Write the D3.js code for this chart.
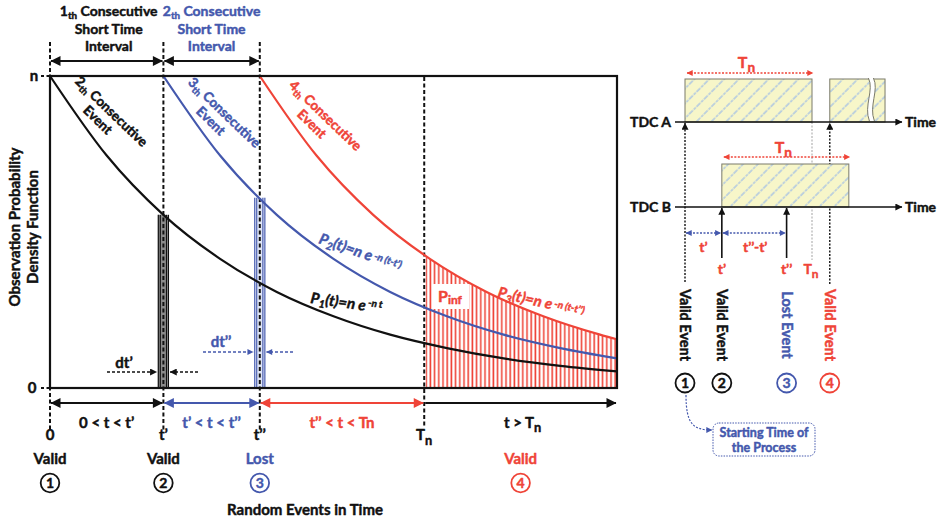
<!DOCTYPE html>
<html><head><meta charset="utf-8">
<script src="https://cdn.jsdelivr.net/npm/d3@7"></script>
<style>
html,body{margin:0;padding:0;background:#fff;}
svg{display:block;font-family:Lato,"Open Sans",sans-serif;font-weight:700;}
</style></head><body>
<svg id="c" width="938" height="524"></svg>
<script>
// ---------------- DATA ----------------
const tEnd = 10;
const eventTimes = [0, 2.0, 3.7, 6.6];            // 0, t', t'', Tn
const eventTickLabels = [["0",""], ["t\u2019",""], ["t\u2019\u2019",""], ["T","n"]];
const eventStatus = ["Valid", "Valid", "Lost", "Valid"];
const eventNumbers = ["1", "2", "3", "4"];
const statusTimes = [0, 2.0, 3.7, 8.3];
const yTickValues = [0, 1];
const yTickLabels = ["0", "n"];
const p1T = [0, 1, 2, 3, 4, 5, 6, 7, 8, 9, 10];
const p1V = [1.00, 0.745, 0.555, 0.414, 0.308, 0.230, 0.171, 0.128, 0.095, 0.071, 0.053];
const p2T = [2, 3, 4, 5, 6, 7, 8, 9, 10];
const p2V = [1.00, 0.745, 0.555, 0.414, 0.308, 0.230, 0.171, 0.128, 0.095];
const p3T = [3.7, 4.7, 5.7, 6.7, 7.7, 8.7, 9.7, 10];
const p3V = [1.00, 0.745, 0.555, 0.414, 0.308, 0.230, 0.171, 0.156];
const barTimes = [2.0, 3.7];          // dt', dt''
const barTops = [0.555, 0.61];
const barHalfWidth = 0.1;
// right panel (time in units of Tn)
const tdcEventTimes = [0, 0.29, 0.80, 1.14];
const tdcEventLabels = ["Valid Event", "Valid Event", "Lost Event", "Valid Event"];
const tdcRows = ["TDC A", "TDC B"];
const tdcBoxesA = [[0, 1], [1.14, 1.575]];
const tdcBoxesB = [[0.29, 1.29]];
const tdcBreak = 1.46;

// ---------------- SETUP ----------------
const BLACK = "#111", BLUE = "#4458ad", RED = "#ef4438";
const svg = d3.select("#c");
const defs = svg.append("defs");
function mk(id, color, w, h) {
  defs.append("marker").attr("id", id).attr("viewBox", "0 0 10 10")
    .attr("refX", 9.5).attr("refY", 5).attr("markerUnits", "userSpaceOnUse")
    .attr("markerWidth", w).attr("markerHeight", h).attr("orient", "auto-start-reverse")
    .append("path").attr("d", "M0,0L10,5L0,10z").attr("fill", color);
}
mk("aK", BLACK, 13, 10); mk("aB", BLUE, 13, 10); mk("aR", RED, 13, 10);
mk("sK", BLACK, 8, 7); mk("sB", BLUE, 7, 6); mk("sR", RED, 7, 6);

const vp = defs.append("pattern").attr("id", "vh").attr("patternUnits", "userSpaceOnUse")
  .attr("width", 4.2).attr("height", 10);
vp.append("rect").attr("width", 4.2).attr("height", 10).attr("fill", "#fff");
vp.append("line").attr("x1", 2).attr("x2", 2).attr("y1", 0).attr("y2", 10)
  .attr("stroke", RED).attr("stroke-width", 1.6);
const dp = defs.append("pattern").attr("id", "dh").attr("patternUnits", "userSpaceOnUse")
  .attr("width", 10.5).attr("height", 10.5).attr("patternTransform", "rotate(45)");
dp.append("rect").attr("width", 10.5).attr("height", 10.5).attr("fill", "#f7f6c9");
dp.append("line").attr("x1", 1).attr("x2", 1).attr("y1", 0).attr("y2", 10.5)
  .attr("stroke", "#a3c0e6").attr("stroke-width", 1.3).attr("stroke-dasharray", "3,1");

function rich(sel, parts) {
  let cur = 0;
  parts.forEach(p => {
    const off = p.sub ? (p.off || 4) : p.sup ? -(p.off || 6) : 0;
    const ts = sel.append("tspan").text(p.t).attr("dy", off - cur);
    if (p.sub || p.sup) ts.attr("font-size", p.fs || "0.7em");
    cur = off;
  });
  return sel;
}

// ---------------- MAIN CHART ----------------
const x = d3.scaleLinear().domain([0, tEnd]).range([50, 617]);
const y = d3.scaleLinear().domain([0, 1]).range([388, 76]);
const zip = (a, b) => a.map((v, i) => [v, b[i]]);
const line = d3.line().x(d => x(d[0])).y(d => y(d[1])).curve(d3.curveMonotoneX);
const area = d3.area().x(d => x(d[0])).y0(y(0)).y1(d => y(d[1])).curve(d3.curveMonotoneX);

defs.append("clipPath").attr("id", "tnClip").append("rect")
  .attr("x", x(eventTimes[3]) + 1.5).attr("y", y(1)).attr("width", x(tEnd) - x(eventTimes[3]) - 1.5)
  .attr("height", y(0) - y(1));
svg.append("path").attr("d", area(zip(p3T, p3V))).attr("fill", "url(#vh)").attr("clip-path", "url(#tnClip)");

const barStyles = [{fill: "#8a8a8a", edge: BLACK}, {fill: "#dfe5f6", edge: BLUE}];
barTimes.forEach((t, i) => {
  const x0 = x(t - barHalfWidth), x1 = x(t + barHalfWidth), yt = y(barTops[i]), yb = y(0);
  svg.append("rect").attr("x", x0).attr("y", yt).attr("width", x1 - x0).attr("height", yb - yt)
    .attr("fill", barStyles[i].fill);
  [x0 + 0.6, x0 + 2.6, x1 - 2.6, x1 - 0.6].forEach(xx => {
    svg.append("line").attr("x1", xx).attr("x2", xx).attr("y1", yt).attr("y2", yb)
      .attr("stroke", barStyles[i].edge).attr("stroke-width", 1.1);
  });
});

const dash = {"stroke": BLACK, "stroke-width": 2, "stroke-dasharray": "4,2.5"};
function dashed(xx, y1, y2) {
  const l = svg.append("line").attr("x1", xx).attr("x2", xx).attr("y1", y1).attr("y2", y2);
  Object.entries(dash).forEach(([k, v]) => l.attr(k, v));
}
dashed(x(eventTimes[0]), 42, 430);
dashed(x(eventTimes[1]), 42, 430);
dashed(x(eventTimes[2]), 42, 430);
dashed(x(eventTimes[3]), 77, 428);
yTickValues.forEach((v, i) => {
  svg.append("line").attr("x1", 41).attr("x2", 50).attr("y1", y(v)).attr("y2", y(v))
    .attr("stroke", BLACK).attr("stroke-width", 2).attr("stroke-dasharray", "3,2.5");
  svg.append("text").attr("x", i === 0 ? 32 : 34).attr("y", y(v) + 5).attr("text-anchor", "middle")
    .attr("font-size", 15).attr("fill", BLACK).text(yTickLabels[i]);
});

svg.append("path").attr("d", line(zip(p1T, p1V))).attr("fill", "none").attr("stroke", BLACK).attr("stroke-width", 2.2);
svg.append("path").attr("d", line(zip(p2T, p2V))).attr("fill", "none").attr("stroke", BLUE).attr("stroke-width", 2.2);
svg.append("path").attr("d", line(zip(p3T, p3V))).attr("fill", "none").attr("stroke", RED).attr("stroke-width", 2.2);

svg.append("rect").attr("x", x(0)).attr("y", y(1)).attr("width", x(tEnd) - x(0)).attr("height", y(0) - y(1))
  .attr("fill", "none").attr("stroke", BLACK).attr("stroke-width", 2.2);

function arrow(x1, y1, x2, y2, color, mkid, both, dasharr, sw) {
  const l = svg.append("line").attr("x1", x1).attr("y1", y1).attr("x2", x2).attr("y2", y2)
    .attr("stroke", color).attr("stroke-width", sw || 2).attr("marker-end", `url(#${mkid})`);
  if (both) l.attr("marker-start", `url(#${mkid})`);
  if (dasharr) l.attr("stroke-dasharray", dasharr);
  return l;
}
arrow(x(eventTimes[0]) + 1, 61, x(eventTimes[1]) - 1, 61, BLACK, "aK", true);
arrow(x(eventTimes[1]) + 1, 61, x(eventTimes[2]) - 1, 61, BLACK, "aK", true);
arrow(x(eventTimes[0]) + 1, 403, x(eventTimes[1]) - 1, 403, BLACK, "aK", true);
arrow(x(eventTimes[1]) + 1, 403, x(eventTimes[2]) - 1, 403, BLUE, "aB", true);
arrow(x(eventTimes[2]) + 1, 403, x(eventTimes[3]) - 1, 403, RED, "aR", true);
arrow(x(eventTimes[3]) + 1, 403, x(tEnd) - 1, 403, BLACK, "aK", false);

const topTitles = [
  {c: (x(eventTimes[0]) + x(eventTimes[1])) / 2 + 2, num: "1", col: BLACK},
  {c: (x(eventTimes[1]) + x(eventTimes[2])) / 2, num: "2", col: BLUE}
];
topTitles.forEach(tt => {
  const t1 = svg.append("text").attr("x", tt.c).attr("y", 16).attr("text-anchor", "middle")
    .attr("font-size", 14).attr("fill", tt.col);
  rich(t1, [{t: tt.num}, {t: "th", sub: true, off: 3}, {t: " Consecutive"}]);
  svg.append("text").attr("x", tt.c).attr("y", 33.5).attr("text-anchor", "middle").attr("font-size", 14)
    .attr("fill", tt.col).text("Short Time");
  svg.append("text").attr("x", tt.c).attr("y", 51).attr("text-anchor", "middle").attr("font-size", 14)
    .attr("fill", tt.col).text("Interval");
});

const curveLabels = [
  {cx: 111, cy: 112, num: "2", col: BLACK},
  {cx: 224, cy: 113, num: "3", col: BLUE},
  {cx: 325, cy: 116, num: "4", col: RED}
];
curveLabels.forEach(cl => {
  const g = svg.append("g").attr("transform", `translate(${cl.cx},${cl.cy}) rotate(44)`);
  const t1 = g.append("text").attr("x", 0).attr("y", 4).attr("text-anchor", "middle")
    .attr("font-size", 13.5).attr("fill", cl.col);
  rich(t1, [{t: cl.num}, {t: "th", sub: true, off: 3}, {t: " Consecutive"}]);
  g.append("text").attr("x", -4).attr("y", 19.5).attr("text-anchor", "middle")
    .attr("font-size", 13.5).attr("fill", cl.col).text("Event");
});

const f2 = svg.append("text").attr("transform", "translate(318,243) rotate(19)")
  .attr("font-size", 15).attr("fill", BLUE).attr("font-style", "italic");
rich(f2, [{t: "P"}, {t: "2", sub: true, off: 3}, {t: "(t)=n e"}, {t: " -n (t-t\u2019)", sup: true, off: 3, fs: "0.66em"}]);
const f1 = svg.append("text").attr("transform", "translate(310,303) rotate(8)")
  .attr("font-size", 15).attr("fill", BLACK).attr("font-style", "italic");
rich(f1, [{t: "P"}, {t: "1", sub: true, off: 3}, {t: "(t)=n e"}, {t: " -n t", sup: true, off: 5, fs: "0.66em"}]);
const f3 = svg.append("text").attr("transform", "translate(497,297) rotate(13)")
  .attr("font-size", 15).attr("fill", RED).attr("font-style", "italic");
rich(f3, [{t: "P"}, {t: "3", sub: true, off: 3}, {t: "(t)=n e"}, {t: " -n (t-t\u2019\u2019)", sup: true, off: 3, fs: "0.66em"}]);

svg.append("rect").attr("x", 432).attr("y", 284).attr("width", 37).attr("height", 25).attr("fill", "#fff");
const pinf = svg.append("text").attr("x", 438).attr("y", 302).attr("font-size", 16).attr("fill", RED);
rich(pinf, [{t: "P"}, {t: "inf", sub: true, off: 2, fs: "0.75em"}]);

svg.append("text").attr("x", 124).attr("y", 368).attr("text-anchor", "middle").attr("font-size", 15)
  .attr("fill", BLACK).text("dt\u2019");
arrow(107, 372, x(barTimes[0] - barHalfWidth) - 1, 372, BLACK, "sK", false, "3,2", 1.3);
arrow(198, 372, x(barTimes[0] + barHalfWidth) + 1, 372, BLACK, "sK", false, "3,2", 1.3);
svg.append("text").attr("x", 221).attr("y", 347).attr("text-anchor", "middle").attr("font-size", 15)
  .attr("fill", BLUE).text("dt\u2019\u2019");
arrow(203, 352, x(barTimes[1] - barHalfWidth) - 1, 352, BLUE, "sB", false, "3,2", 1.3);
arrow(293, 352, x(barTimes[1] + barHalfWidth) + 1, 352, BLUE, "sB", false, "3,2", 1.3);

const ivl = [
  {c: (x(eventTimes[0]) + x(eventTimes[1])) / 2, col: BLACK, parts: [{t: "0 < t < t\u2019"}]},
  {c: (x(eventTimes[1]) + x(eventTimes[2])) / 2, col: BLUE, parts: [{t: "t\u2019 < t < t\u2019\u2019"}]},
  {c: (x(eventTimes[2]) + x(eventTimes[3])) / 2, col: RED, parts: [{t: "t\u2019\u2019 < t < Tn"}]},
  {c: (x(eventTimes[3]) + x(tEnd)) / 2 + 2, col: BLACK, parts: [{t: "t > T"}, {t: "n", sub: true, off: 4, fs: "0.85em"}]}
];
ivl.forEach(d => {
  const t = svg.append("text").attr("x", d.c).attr("y", 428).attr("text-anchor", "middle")
    .attr("font-size", 15).attr("fill", d.col);
  rich(t, d.parts);
});
eventTimes.forEach((t, i) => {
  const tx = svg.append("text").attr("x", x(t)).attr("y", 440).attr("text-anchor", "middle")
    .attr("font-size", 15).attr("fill", BLACK);
  const pr = [{t: eventTickLabels[i][0]}];
  if (eventTickLabels[i][1]) pr.push({t: eventTickLabels[i][1], sub: true, off: 5, fs: "0.85em"});
  rich(tx, pr);
});
const statusCols = [BLACK, BLACK, BLUE, RED];
statusTimes.forEach((t, i) => {
  svg.append("text").attr("x", x(t)).attr("y", 464).attr("text-anchor", "middle")
    .attr("font-size", 15).attr("fill", statusCols[i]).text(eventStatus[i]);
  svg.append("circle").attr("cx", x(t)).attr("cy", 483).attr("r", 9.3).attr("fill", "#fff")
    .attr("stroke", statusCols[i]).attr("stroke-width", 1.8);
  svg.append("text").attr("x", x(t)).attr("y", 488).attr("text-anchor", "middle")
    .attr("font-size", 14).attr("fill", statusCols[i]).text(eventNumbers[i]);
});
svg.append("text").attr("x", 305).attr("y", 515).attr("text-anchor", "middle").attr("font-size", 15)
  .attr("fill", BLACK).text("Random Events in Time");
const yt = svg.append("g").attr("transform", "translate(20,227) rotate(-90)");
yt.append("text").attr("x", 0).attr("y", 0).attr("text-anchor", "middle").attr("font-size", 15)
  .attr("fill", BLACK).text("Observation Probability");
yt.append("text").attr("x", 0).attr("y", 18).attr("text-anchor", "middle").attr("font-size", 15)
  .attr("fill", BLACK).text("Density Function");

// ---------------- RIGHT PANEL ----------------
const xr = d3.scaleLinear().domain([0, 1]).range([685, 812]);
const rowY = [122, 207];
const boxH = 43;
const ev = tdcEventTimes.map(t => xr(t));
svg.append("line").attr("x1", xr(1)).attr("x2", xr(1)).attr("y1", rowY[0]).attr("y2", 260)
  .attr("stroke", "#999").attr("stroke-width", 0.9).attr("stroke-dasharray", "2,1.5");
arrow(ev[0], 282, ev[0], rowY[0] + 1, BLACK, "sK", false, "2,1.5", 1.4);
arrow(ev[3], 284, ev[3], rowY[0] + 1, BLACK, "sK", false, "2,1.5", 1.4);

function tdcBox(a, b, row) {
  svg.append("rect").attr("x", xr(a)).attr("y", rowY[row] - boxH).attr("width", xr(b) - xr(a))
    .attr("height", boxH).attr("fill", "url(#dh)").attr("stroke", "#7a7a6a").attr("stroke-width", 1);
}
tdcBoxesA.forEach(b => tdcBox(b[0], b[1], 0));
tdcBoxesB.forEach(b => tdcBox(b[0], b[1], 1));
{
  const bx = xr(tdcBreak), top = rowY[0] - boxH - 1, bot = rowY[0] - 1;
  const waveL = `M${bx - 2},${top} C${bx + 4},${top + 12} ${bx - 7},${top + 28} ${bx - 1},${bot}`;
  const waveR = `M${bx + 3},${top} C${bx + 9},${top + 12} ${bx - 2},${top + 28} ${bx + 4},${bot}`;
  svg.append("path").attr("d", `${waveL} L${bx + 4},${bot} C${bx - 2},${top + 28} ${bx + 9},${top + 12} ${bx + 3},${top} Z`)
    .attr("fill", "#fff");
  svg.append("path").attr("d", waveL).attr("fill", "none").attr("stroke", "#7a7a6a").attr("stroke-width", 1);
  svg.append("path").attr("d", waveR).attr("fill", "none").attr("stroke", "#7a7a6a").attr("stroke-width", 1);
}
rowY.forEach((yy, i) => {
  arrow(675, yy, 902, yy, BLACK, "sK", false, null, 1.6);
  svg.append("text").attr("x", 671).attr("y", yy + 5).attr("text-anchor", "end").attr("font-size", 14)
    .attr("fill", BLACK).text(tdcRows[i]);
  svg.append("text").attr("x", 905).attr("y", yy + 5).attr("font-size", 14)
    .attr("fill", BLACK).text("Time");
});
[[tdcBoxesA[0], 73, 64], [tdcBoxesB[0], 157, 149]].forEach(([b, ay, ty]) => {
  arrow(xr(b[0]) + 2, ay, xr(b[1]) + 1, ay, RED, "sR", true, "2,1.5", 1.3);
  const t = svg.append("text").attr("x", (xr(b[0]) + xr(b[1])) / 2 - 2).attr("y", ty + 4)
    .attr("text-anchor", "middle").attr("font-size", 16).attr("fill", RED);
  rich(t, [{t: "T"}, {t: "n", sub: true, off: 4, fs: "0.85em"}]);
});
[1, 2].forEach(i => arrow(ev[i], 258, ev[i], rowY[1] + 1, BLACK, "sK", false, null, 1.6));
arrow(ev[0] + 1, 233, ev[1] - 1, 233, BLUE, "sB", true, "2,1.5", 1.3);
arrow(ev[1] + 1, 233, ev[2] - 1, 233, BLUE, "sB", true, "2,1.5", 1.3);
svg.append("text").attr("x", (ev[0] + ev[1]) / 2).attr("y", 252).attr("text-anchor", "middle")
  .attr("font-size", 14).attr("fill", RED).text("t\u2019");
svg.append("text").attr("x", (ev[1] + ev[2]) / 2 + 1).attr("y", 252).attr("text-anchor", "middle")
  .attr("font-size", 14).attr("fill", RED).text("t\u2019\u2019-t\u2019");
svg.append("text").attr("x", ev[1]).attr("y", 274).attr("text-anchor", "middle")
  .attr("font-size", 14).attr("fill", RED).text("t\u2019");
svg.append("text").attr("x", ev[2]).attr("y", 274).attr("text-anchor", "middle")
  .attr("font-size", 14).attr("fill", RED).text("t\u2019\u2019");
{
  const t = svg.append("text").attr("x", xr(1) - 1).attr("y", 274).attr("text-anchor", "middle")
    .attr("font-size", 14).attr("fill", RED);
  rich(t, [{t: "T"}, {t: "n", sub: true, off: 4, fs: "0.85em"}]);
}
tdcEventTimes.forEach((t, i) => {
  svg.append("text").attr("transform", `translate(${xr(t) - 5},325) rotate(90)`)
    .attr("text-anchor", "middle").attr("font-size", 14.5).attr("fill", statusCols[i]).text(tdcEventLabels[i]);
  svg.append("circle").attr("cx", xr(t)).attr("cy", 383).attr("r", 9.5).attr("fill", "#fff")
    .attr("stroke", statusCols[i]).attr("stroke-width", 1.8);
  svg.append("text").attr("x", xr(t)).attr("y", 388).attr("text-anchor", "middle")
    .attr("font-size", 14).attr("fill", statusCols[i]).text(eventNumbers[i]);
});
svg.append("path").attr("d", `M${ev[0] + 1},395 C${ev[0] + 1},424 ${ev[0] + 8},430 ${ev[0] + 27},430`)
  .attr("fill", "none").attr("stroke", BLUE).attr("stroke-width", 1.2).attr("stroke-dasharray", "2,1.5")
  .attr("marker-end", "url(#sB)");
svg.append("rect").attr("x", 713).attr("y", 423).attr("width", 102).attr("height", 33).attr("rx", 6)
  .attr("fill", "#fff").attr("stroke", BLUE).attr("stroke-width", 1).attr("stroke-dasharray", "1.5,1.2");
svg.append("text").attr("x", 764).attr("y", 437).attr("text-anchor", "middle").attr("font-size", 12.5)
  .attr("fill", BLUE).text("Starting Time of");
svg.append("text").attr("x", 764).attr("y", 452).attr("text-anchor", "middle").attr("font-size", 12.5)
  .attr("fill", BLUE).text("the Process");

// embolden all text slightly (heavier look like the reference)
svg.selectAll("text").each(function () {
  const s = d3.select(this);
  s.attr("stroke", s.attr("fill")).attr("stroke-width", 0.45).attr("stroke-linejoin", "round");
});
</script>
</body></html>
